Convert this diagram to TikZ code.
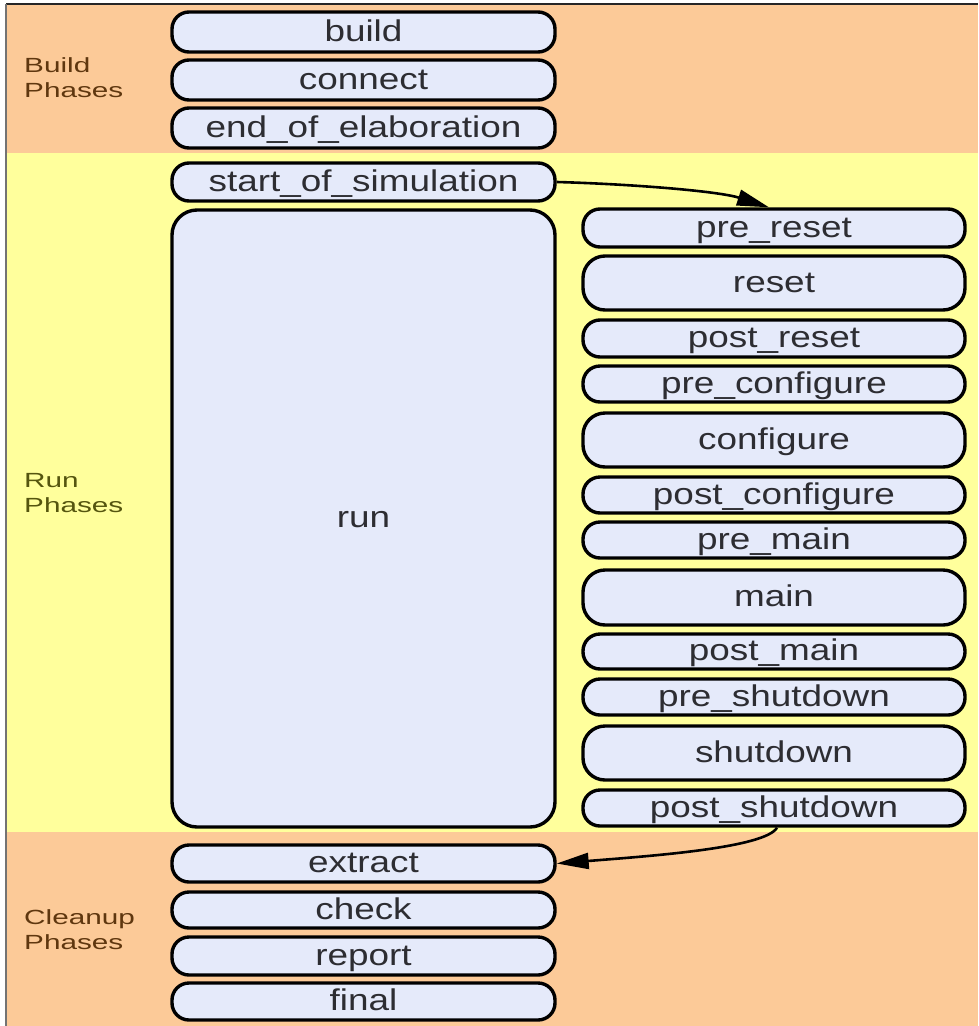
\documentclass[tikz,border=0pt]{standalone}
\usepackage{fontspec}
\usetikzlibrary{arrows.meta}
\newfontfamily\phasefont{Liberation Sans}[FakeStretch=1.23]
\newfontfamily\bandfont{Liberation Sans}[FakeStretch=1.45]
\definecolor{peach}{RGB}{252,202,152}
\definecolor{paleyellow}{RGB}{255,255,156}
\definecolor{nodefill}{RGB}{229,234,250}
\definecolor{textgray}{RGB}{45,45,50}
\definecolor{bandbrown}{RGB}{95,55,15}
\definecolor{bandolive}{RGB}{85,85,15}
\tikzset{
  phase/.style={draw=black, line width=3.4pt, fill=nodefill, rounded corners=17pt,
    inner sep=0pt, text=textgray, text height=23pt, text depth=5pt,
    font=\phasefont\fontsize{30}{36}\selectfont},
  leftcol/.style={phase, minimum width=383pt},
  rightcol/.style={phase, minimum width=382pt},
  tall/.style={rounded corners=22pt},
  bandlabel/.style={anchor=base west, align=left, inner sep=0pt,
    font=\bandfont\fontsize{20.5}{24.5}\selectfont},
  flow/.style={line width=2.6pt, -{Triangle[length=32pt,width=16pt]}}
}
\begin{document}
\begin{tikzpicture}[x=1pt, y=-1pt]
\useasboundingbox (0,0) rectangle (978,1026);
\fill[white] (0,0) rectangle (978,1026);
% phase bands
\fill[peach] (6,4) rectangle (978,153);
\fill[paleyellow] (6,153) rectangle (978,832);
\fill[peach] (6,832) rectangle (978,1026);
\draw[line width=1.5pt, black!85] (6,4) -- (978,4);
\draw[line width=1.5pt, black!55] (6,4) -- (6,1026);

% band labels (base anchor sits on the last line)
\node[bandlabel, text=bandbrown] (lbuild) at (24,97) {Build\\Phases};
\node[bandlabel, text=bandolive] (lrun) at (24,512) {Run\\Phases};
\node[bandlabel, text=bandbrown] (lclean) at (24,949) {Cleanup\\Phases};

% left column
\node[leftcol, minimum height=40pt] (build) at (363.5,32) {build};
\node[leftcol, minimum height=40pt] (connect) at (363.5,80) {connect};
\node[leftcol, minimum height=40pt] (eoe) at (363.5,128) {end\_of\_elaboration};
\node[leftcol, minimum height=38pt] (sos) at (363.5,182) {start\_of\_simulation};
\node[leftcol, minimum height=617pt, rounded corners=25pt] (run) at (363.5,518.5) {run};
\node[leftcol, minimum height=37pt] (extract) at (363.5,863.5) {extract};
\node[leftcol, minimum height=36pt] (check) at (363.5,910) {check};
\node[leftcol, minimum height=38pt] (report) at (363.5,956) {report};
\node[leftcol, minimum height=37pt] (final) at (363.5,1001.5) {final};

% right column: runtime sub-phases
\node[rightcol, minimum height=38pt] (prereset) at (774,228) {pre\_reset};
\node[rightcol, tall, minimum height=54pt] (reset) at (774,283) {reset};
\node[rightcol, minimum height=37pt] (postreset) at (774,338.5) {post\_reset};
\node[rightcol, minimum height=36pt] (preconfigure) at (774,384) {pre\_configure};
\node[rightcol, tall, minimum height=54pt] (configure) at (774,440) {configure};
\node[rightcol, minimum height=36pt] (postconfigure) at (774,495) {post\_configure};
\node[rightcol, minimum height=36pt] (premain) at (774,540) {pre\_main};
\node[rightcol, tall, minimum height=55pt] (main) at (774,597.5) {main};
\node[rightcol, minimum height=35pt] (postmain) at (774,651.5) {post\_main};
\node[rightcol, minimum height=36pt] (preshutdown) at (774,697) {pre\_shutdown};
\node[rightcol, tall, minimum height=54pt] (shutdown) at (774,753) {shutdown};
\node[rightcol, minimum height=36pt] (postshutdown) at (774,808) {post\_shutdown};

% connectors
\draw[flow] (sos.east) .. controls (630,184) and (718,191) .. ([xshift=-5pt]prereset.north);
\draw[flow] ([xshift=3pt]postshutdown.south) .. controls (765,848) and (650,856) .. (extract.east);
\end{tikzpicture}
\end{document}
